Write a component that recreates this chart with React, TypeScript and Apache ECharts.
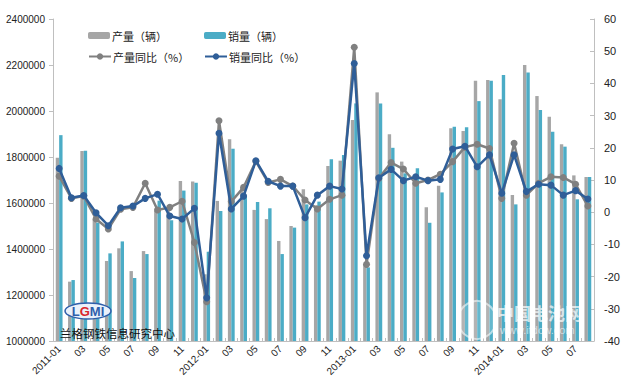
import React, { useEffect, useRef } from "react";
import * as echarts from "echarts";

const months = [
  "2011-01","2011-02","2011-03","2011-04","2011-05","2011-06","2011-07","2011-08","2011-09","2011-10","2011-11","2011-12",
  "2012-01","2012-02","2012-03","2012-04","2012-05","2012-06","2012-07","2012-08","2012-09","2012-10","2012-11","2012-12",
  "2013-01","2013-02","2013-03","2013-04","2013-05","2013-06","2013-07","2013-08","2013-09","2013-10","2013-11","2013-12",
  "2014-01","2014-02","2014-03","2014-04","2014-05","2014-06","2014-07","2014-08",
];

const production = [
  1797000, 1258000, 1826000, 1530000, 1348000, 1403000, 1304000, 1391000, 1565000, 1580000, 1696000, 1693000,
  1290000, 1609000, 1877000, 1670000, 1570000, 1530000, 1435000, 1500000, 1660000, 1590000, 1761000, 1784000,
  1961000, 1335000, 2081000, 1899000, 1780000, 1690000, 1581000, 1675000, 1925000, 1913000, 2132000, 2135000,
  2051000, 1635000, 2200000, 2065000, 1975000, 1855000, 1720000, 1713000,
];

const sales = [
  1895000, 1265000, 1827000, 1515000, 1381000, 1433000, 1274000, 1378000, 1610000, 1525000, 1654000, 1688000,
  1388000, 1565000, 1836000, 1630000, 1604000, 1577000, 1378000, 1493000, 1594000, 1606000, 1790000, 1809000,
  2033000, 1320000, 2033000, 1840000, 1729000, 1751000, 1514000, 1646000, 1932000, 1929000, 2043000, 2132000,
  2157000, 1594000, 2167000, 2004000, 1910000, 1845000, 1616000, 1713000,
];

const productionYoY = [
  11.2, 4.3, 5.0, -2.1, -5.2, 0.9, 1.5, 9.0, 0.7, 1.5, 3.4, -9.4,
  -27.8, 28.4, 3.3, 7.7, 15.8, 9.2, 10.2, 8.1, 3.8, 1.0, 4.0, 5.3,
  51.2, -16.2, 10.5, 15.4, 13.4, 9.0, 10.0, 11.8, 15.7, 20.2, 21.1, 19.8,
  4.3, 21.4, 5.3, 9.0, 11.0, 10.8, 8.7, 1.9,
];

const salesYoY = [
  13.6, 4.5, 5.2, -0.2, -4.2, 1.4, 1.9, 4.3, 5.6, -1.2, -2.1, 1.2,
  -26.6, 24.5, 1.0, 5.0, 16.0, 9.6, 8.1, 8.1, -1.7, 5.3, 8.1, 7.2,
  46.2, -13.5, 10.7, 13.3, 9.8, 11.0, 9.8, 10.2, 19.6, 20.5, 14.1, 17.8,
  5.9, 17.8, 6.4, 8.7, 8.4, 5.3, 6.7, 4.1,
];

const names = ["产量（辆）", "销量（辆）", "产量同比（%）", "销量同比（%）"];

const FONT = "'Liberation Sans', 'Noto Sans CJK SC', sans-serif";
const CJK = "'Noto Sans CJK SC', sans-serif";
const AXIS_COLOR = "#BFBFBF";

export default function App() {
  const ref = useRef<HTMLDivElement>(null);

  useEffect(() => {
    if (!ref.current) return;
    const chart = echarts.init(ref.current, undefined, { renderer: "svg" });

    const legendBase = {
      itemWidth: 22,
      itemHeight: 7,
      textStyle: { fontSize: 11, color: "#222", fontFamily: CJK, padding: [0, 0, 0, -3] },
      selectedMode: false,
    };

    const option: any = {
      animation: false,
      textStyle: { fontFamily: FONT },
      grid: { left: 53, right: 40, top: 19, bottom: 46, containLabel: false },
      legend: [
        { ...legendBase, data: [names[0]], left: 83, top: 25 },
        { ...legendBase, data: [names[1]], left: 199, top: 25 },
        { ...legendBase, itemHeight: 8, data: [names[2]], left: 83, top: 46 },
        { ...legendBase, itemHeight: 8, data: [names[3]], left: 199, top: 46 },
      ],
      xAxis: {
        type: "category",
        data: months,
        boundaryGap: true,
        axisLine: { onZero: false, lineStyle: { color: AXIS_COLOR, width: 1 } },
        axisTick: { show: true, inside: true, length: 3, interval: 0, lineStyle: { color: AXIS_COLOR } },
        axisLabel: {
          interval: 1,
          rotate: 45,
          fontSize: 10,
          color: "#222",
          margin: 6,
          formatter: (v: string) => (v.endsWith("-01") ? v : v.slice(5)),
        },
        splitLine: { show: false },
      },
      yAxis: [
        {
          type: "value",
          min: 1000000,
          max: 2400000,
          interval: 200000,
          axisLine: { show: true, onZero: false, lineStyle: { color: AXIS_COLOR } },
          axisTick: { show: true, length: 4, lineStyle: { color: AXIS_COLOR } },
          axisLabel: { fontSize: 10, color: "#222", margin: 8, formatter: (v: number) => String(v) },
          splitLine: { show: false },
        },
        {
          type: "value",
          min: -40,
          max: 60,
          interval: 10,
          position: "right",
          axisLine: { show: true, onZero: false, lineStyle: { color: AXIS_COLOR } },
          axisTick: { show: true, inside: true, length: 4, lineStyle: { color: AXIS_COLOR } },
          axisLabel: { fontSize: 11, color: "#222", margin: 10, formatter: (v: number) => String(v) },
          splitLine: { show: false },
        },
      ],
      series: [
        {
          name: names[0],
          type: "bar",
          data: production,
          barWidth: 3.4,
          barGap: "0%",
          itemStyle: { color: "#A6A6A6" },
          z: 1,
        },
        {
          name: names[1],
          type: "bar",
          data: sales,
          barWidth: 3.4,
          barGap: "0%",
          itemStyle: { color: "#4BACC6" },
          z: 1,
        },
        {
          name: names[2],
          type: "line",
          yAxisIndex: 1,
          data: productionYoY,
          symbol: "circle",
          symbolSize: 7,
          lineStyle: { color: "#808080", width: 2.5 },
          itemStyle: { color: "#808080" },
          z: 3,
        },
        {
          name: names[3],
          type: "line",
          yAxisIndex: 1,
          data: salesYoY,
          symbol: "circle",
          symbolSize: 7,
          lineStyle: { color: "#2F5E98", width: 2.5 },
          itemStyle: { color: "#2F5E98" },
          z: 4,
        },
      ],
      graphic: [
        {
          type: "ellipse",
          shape: { cx: 88, cy: 311, rx: 23, ry: 8 },
          style: { fill: "#EAF1FA", stroke: "#2E5EAA", lineWidth: 1.5 },
          z: 10,
        },
        {
          type: "text",
          x: 88,
          y: 311,
          style: {
            text: "{b|L}{r|G}{b|MI}",
            align: "center",
            verticalAlign: "middle",
            rich: {
              b: { fill: "#2E5EAA", fontSize: 13, fontWeight: "bold", fontFamily: FONT },
              r: { fill: "#D9262C", fontSize: 13, fontWeight: "bold", fontFamily: FONT },
            },
          },
          z: 11,
        },
        {
          type: "text",
          x: 60,
          y: 333,
          style: {
            text: "兰格钢铁信息研究中心",
            fill: "#111",
            fontSize: 11.5,
            fontFamily: CJK,
            verticalAlign: "middle",
          },
          z: 11,
        },
        {
          type: "circle",
          shape: { cx: 477, cy: 320, r: 19 },
          style: { fill: "rgba(255,255,255,0.15)", stroke: "rgba(255,255,255,0.55)", lineWidth: 2 },
          z: 10,
        },
        {
          type: "text",
          x: 497,
          y: 312,
          style: {
            text: "中国电池网",
            fill: "rgba(255,255,255,0.7)",
            fontSize: 17,
            fontWeight: "bold",
            fontFamily: CJK,
            verticalAlign: "middle",
          },
          z: 10,
        },
        {
          type: "text",
          x: 500,
          y: 330,
          style: {
            text: "www.itdcw.com",
            fill: "rgba(255,255,255,0.6)",
            fontSize: 11,
            fontFamily: FONT,
            verticalAlign: "middle",
          },
          z: 10,
        },
      ],
    };

    chart.setOption(option);
    return () => chart.dispose();
  }, []);

  return (
    <div
      ref={ref}
      style={{ position: "fixed", left: 0, top: 0, width: 634, height: 387, background: "#fff" }}
    />
  );
}
